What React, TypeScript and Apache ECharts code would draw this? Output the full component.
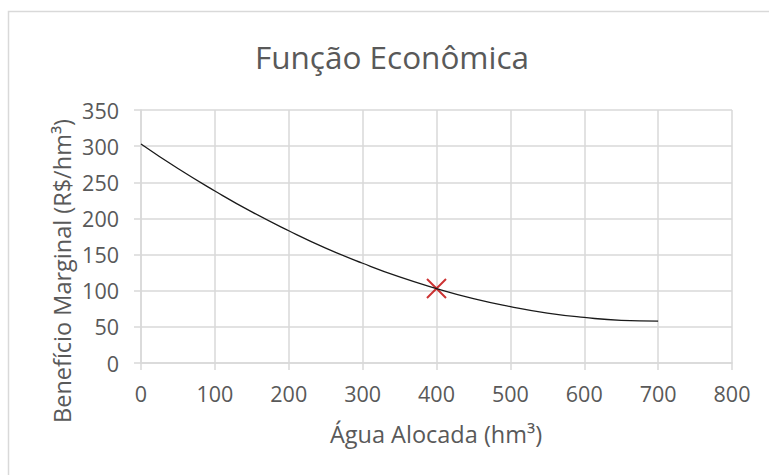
import React, { useEffect, useRef } from "react";
import * as echarts from "echarts";

const titleText = "Função Econômica";
const xAxisName = "Água Alocada (hm³)";
const yAxisName = "Benefício Marginal (R$/hm³)";

const curveX = [0, 50, 100, 150, 200, 250, 300, 350, 400, 450, 500, 550, 600, 650, 700];
const curveY = [303, 269, 238, 209, 183, 159, 138, 119, 103, 89, 78, 69, 63, 59, 58];

const markerX = [400];
const markerY = [103];

const xMin = 0, xMax = 800, xStep = 100;
const yMin = 0, yMax = 350, yStep = 50;

const FONT = "Open Sans";
const TEXT = "#595959";
const GRID = "#d9d9d9";

export default function App() {
  const ref = useRef<HTMLDivElement>(null);
  useEffect(() => {
    document.body.style.margin = "0";
    const chart = echarts.init(ref.current!, null, { renderer: "svg" });
    chart.setOption({
      animation: false,
      backgroundColor: "#ffffff",
      grid: { left: 141, right: 37, top: 110, bottom: 112, containLabel: false },
      graphic: [
        {
          type: "rect",
          shape: { x: 8.5, y: 11.5, width: 800, height: 500 },
          style: { fill: "none", stroke: GRID, lineWidth: 1.5 },
          silent: true,
        },
        {
          type: "text",
          x: 392,
          y: 56,
          style: {
            text: titleText,
            fontFamily: FONT,
            fontSize: 31.5,
            fill: TEXT,
            align: "center",
            verticalAlign: "middle",
          },
        },
        {
          type: "text",
          x: 62,
          y: 271,
          rotation: Math.PI / 2,
          style: {
            text: yAxisName,
            fontFamily: FONT,
            fontSize: 23.5,
            fill: TEXT,
            align: "center",
            verticalAlign: "middle",
          },
        },
        {
          type: "text",
          x: 436,
          y: 434,
          style: {
            text: xAxisName,
            fontFamily: FONT,
            fontSize: 23.5,
            fill: TEXT,
            align: "center",
            verticalAlign: "middle",
          },
        },
      ],
      xAxis: {
        type: "value",
        min: xMin,
        max: xMax,
        interval: xStep,
        axisLine: { show: true, lineStyle: { color: GRID, width: 1.5 } },
        axisTick: { show: true, length: 7, lineStyle: { color: GRID, width: 1.5 } },
        splitLine: { show: true, lineStyle: { color: GRID, width: 1.5 } },
        axisLabel: { color: TEXT, fontFamily: FONT, fontSize: 21.5, margin: 19 },
      },
      yAxis: {
        type: "value",
        min: yMin,
        max: yMax,
        interval: yStep,
        axisLine: { show: true, lineStyle: { color: GRID, width: 1.5 } },
        axisTick: { show: true, length: 7, lineStyle: { color: GRID, width: 1.5 } },
        splitLine: { show: true, lineStyle: { color: GRID, width: 1.5 } },
        axisLabel: { color: TEXT, fontFamily: FONT, fontSize: 21.5, margin: 22 },
      },
      series: [
        {
          type: "line",
          data: curveX.map((x, i) => [x, curveY[i]]),
          smooth: true,
          showSymbol: false,
          lineStyle: { color: "#1a1a1a", width: 1.3 },
          silent: true,
        },
        {
          type: "scatter",
          data: markerX.map((x, i) => [x, markerY[i]]),
          symbol: "path://M0,0L10,10M10,0L0,10",
          symbolSize: 19,
          itemStyle: { color: "none", borderColor: "#c00000", borderWidth: 2 },
          silent: true,
        },
      ],
    });
    return () => chart.dispose();
  }, []);
  return <div ref={ref} style={{ width: 769, height: 475 }} />;
}
